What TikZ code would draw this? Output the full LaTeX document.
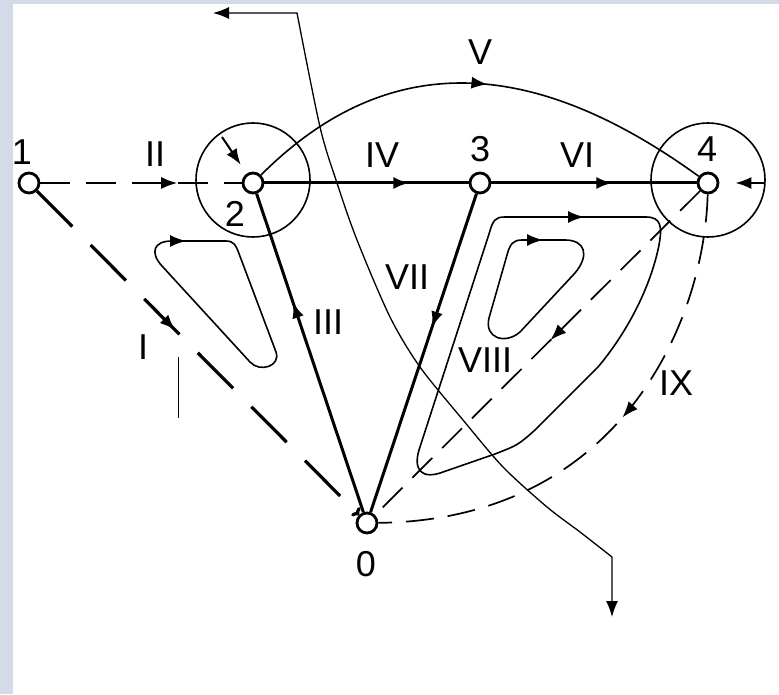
\documentclass[tikz,border=0pt]{standalone}
\usepackage{fontspec}
\setmainfont{Liberation Sans}
\usetikzlibrary{arrows.meta, decorations.markings}
\definecolor{bgstrip}{RGB}{212,219,232}

\begin{document}
\begin{tikzpicture}[x=0.5pt, y=-0.5pt,
    >={Latex[length=8pt,width=6pt]},
    vtx/.style={circle, draw, fill=white, line width=1.4pt, minimum size=10pt, inner sep=0pt},
    lbl/.style={inner sep=0pt, font=\fontsize{18}{20}\selectfont},
    heavy/.style={line width=1.5pt},
    fine/.style={line width=0.8pt},
    dashI/.style={line width=1.6pt, dash pattern=on 25pt off 13pt},
    dashII/.style={line width=1pt, dash pattern=on 15pt off 8pt},
    dashlow/.style={line width=0.85pt, dash pattern=on 14pt off 7pt},
    midarrow/.style={postaction={decorate}, decoration={markings, mark=at position #1 with {\arrow{>}}}}]
    % --- 1. 背景 ---
    \useasboundingbox (0,0) rectangle (779,694);
    \fill[bgstrip] (0,0) rectangle (779,694);
    \fill[white] (12.5,4) rectangle (779,694);

    % --- 2. 節點 0 ~ 4 ---
    \node[vtx] (n1) at (29,183) {};
    \node[vtx] (n2) at (253,183) {};
    \node[vtx] (n3) at (480,183) {};
    \node[vtx] (n4) at (708,183) {};
    \node[vtx] (n0) at (367,523) {};
    \def\rBig{28.5pt}

    % --- 3. 節點 2, 4 外的大圓 ---
    \draw[fine] ([yshift=1.5pt]n2.center) circle[radius=\rBig];
    \draw[fine] ([yshift=1.5pt]n4.center) circle[radius=\rBig];

    % --- 4. 主要連線 I ~ IX ---
    \draw[dashI, midarrow=0.43, -{To[length=3pt,width=6pt]}] (n1) -- (n0);
    \draw[dashII, midarrow=0.68] (n1) -- (n2);
    \draw[heavy, midarrow=0.66] (n0) -- (n2);
    \draw[heavy, midarrow=0.71] (n2) -- (n3);
    \draw[fine, midarrow=0.52] (n2) .. controls (403,33) and (556,73) .. (n4);
    \draw[heavy, midarrow=0.59] (n3) -- (n4);
    \draw[heavy, midarrow=0.42] (n3) -- (n0);
    \draw[dashlow, midarrow=0.46] (n4) -- (n0);
    \draw[dashlow, midarrow=0.47] (n4) .. controls (704,325) and (618,520) .. (n0);

    % --- 5. 圓內的短箭頭 ---
    \coordinate (p2) at (222,137);
    \coordinate (in4) at (765,183);
    \draw[line width=1pt, ->, shorten >=5.3pt] (p2) -- (n2);
    \draw[line width=1pt, ->, shorten >=8pt] (in4) -- (n4);

    % --- 6. 三個迴路 ---
    \draw[fine, midarrow=8pt] (170,241) -- (226,241) .. controls (234,241) and (236,246) .. (238,251)
        -- (276,352) .. controls (281,366) and (260,373) .. (250,362)
        -- (162,266) .. controls (150,253) and (153,241) .. (172,241) -- cycle;
    \draw[fine, midarrow=12pt] (560,217) -- (646,217) .. controls (662,217) and (662,228) .. (659,245)
        .. controls (650,290) and (625,335) .. (598,367) -- (535,430) .. controls (518,445) .. (495,454)
        -- (443,472) .. controls (422,480) and (413,470) .. (419,450)
        -- (489,234) .. controls (493,220) and (495,217) .. (505,217) -- cycle;
    \draw[fine, midarrow=9pt] (525,240) -- (565,240) .. controls (585,240) and (590,255) .. (575,273)
        -- (520,332) .. controls (505,345) and (484,338) .. (489,318)
        -- (507,255) .. controls (510,244) and (513,240) .. (522,240) -- cycle;

    % --- 7. 穿越的細曲線 ---
    \coordinate (outA) at (213,13);
    \coordinate (outK1) at (297,13);
    \coordinate (outK2) at (612,557);
    \coordinate (outB) at (612,617);
    \draw[line width=0.65pt, <->] (outA) -- (outK1)
        -- plot[smooth] coordinates {(297,13) (320,127) (337,183) (357,240) (390,317) (420,367)
           (463,420) (503,467) (547,507) (580,532) (612,557)} -- (outB);
    \draw[line width=0.5pt] (178,357) -- (178,418);

    % --- 8. 標籤 ---
    \node[lbl] (t1) at (22,152) {1};
    \node[lbl] (t2) at (235,214) {2};
    \node[lbl] (t3) at (480,149) {3};
    \node[lbl] (t4) at (707,149) {4};
    \node[lbl] (t0) at (366,564) {0};
    \node[lbl] (lI) at (143,347) {I};
    \node[lbl] (lII) at (155,154) {II};
    \node[lbl] (lIII) at (328,322) {III};
    \node[lbl] (lIV) at (382,155) {IV};
    \node[lbl] (lV) at (480,52) {V};
    \node[lbl] (lVI) at (577,155) {VI};
    \node[lbl] (lVII) at (407,277) {VII};
    \node[lbl] (lVIII) at (485,360) {VIII};
    \node[lbl] (lIX) at (676,383) {IX};
  \end{tikzpicture}
\end{document}
